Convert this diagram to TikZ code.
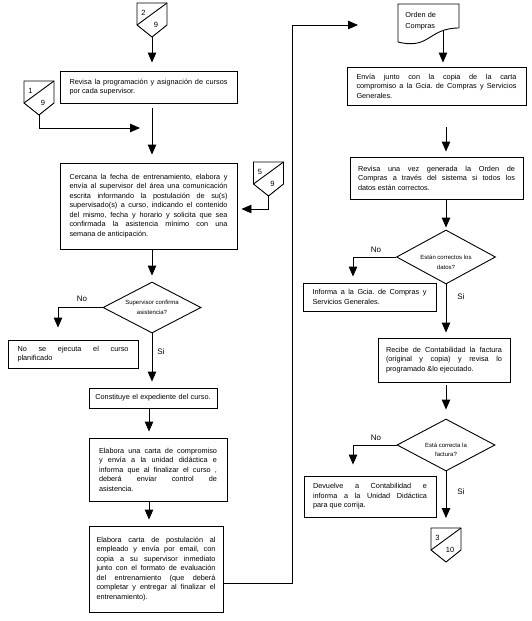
\documentclass[tikz,border=0pt]{standalone}
\usepackage{fontspec}
\setmainfont{Liberation Sans}
\usetikzlibrary{arrows.meta,shapes.geometric,calc}
\hyphenpenalty=10000
\exhyphenpenalty=10000
\frenchspacing
\newcommand\bxfont{\fontsize{7.3}{9.5}\selectfont\tolerance=10000 }
\newcommand\dfont{\fontsize{6}{9.5}\selectfont}
\newcommand\lfont{\fontsize{8}{9}\selectfont}
\newcommand\nfont{\fontsize{7.5}{8}\selectfont}
\newcommand\dtxt[2]{\raisebox{#1}[0pt][0pt]{\makebox[0pt]{\begin{tabular}{@{}c@{}}#2\end{tabular}}}}
\begin{document}
\begin{tikzpicture}[x=1pt,y=-1pt, line width=0.9pt,
 box/.style={draw, rectangle, align=justify, font=\bxfont, inner ysep=0pt},
 arr/.style={-{Triangle[length=10pt,width=8.5pt]}},
 dia/.style={draw, diamond, inner sep=0pt, font=\dfont},
 lbl/.style={font=\lfont, inner sep=0pt},
 pics/offpage/.style 2 args={code={
   \draw (-15,0) -- (15,0) -- (15,22) -- (0,34) -- (-15,22) -- cycle;
   \draw (-15,22) -- (15,0);
   \node[font=\nfont, inner sep=0pt] (-up) at (-8.5,10) {#1};
   \node[font=\nfont, inner sep=0pt] (-dn) at (4,22) {#2};
   \coordinate (-top) at (0,0);
   \coordinate (-tip) at (0,34);
 }},
]
\useasboundingbox (0,0) rectangle (531,621);

% helper columns
\coordinate (colL) at (152,0);
\coordinate (colL2) at (149,0);
\coordinate (colR) at (446,0);
\coordinate (nL) at (58,0);
\coordinate (nR) at (353,0);

% off-page connectors
\pic (c29) at (152,3) {offpage={2}{9}};
\pic (c19) at (39,81) {offpage={1}{9}};
\pic (c59) at (268.5,162) {offpage={5}{9}};
\pic (c310) at (446,528) {offpage={3}{10}};

% left column
\node[box, text width=158pt, inner xsep=9.5pt, minimum height=32pt] (B1) at (148.5,87)
 {Revisa la programación y asignación de cursos\linebreak por cada supervisor.};
\node[box, text width=158pt, inner xsep=9.5pt, minimum height=86pt] (B2) at (148.5,206)
 {Cercana la fecha de entrenamiento, elabora y\linebreak envía al supervisor del área una comunicación\linebreak escrita informando la postulación de su(s)\linebreak supervisado(s) a curso, indicando el contenido\linebreak del mismo, fecha y horario y solicita que sea\linebreak confirmada la asistencia mínimo con una\linebreak semana de anticipación.};
\node[dia, minimum width=98pt, minimum height=51pt] (D1) at (152,307.5)
 {\dtxt{-1.5pt}{Supervisor confirma\\asistencia?}};
\node[box, text width=111pt, inner xsep=9.5pt, minimum height=28pt] (B3) at (73,354)
 {No se ejecuta el curso\linebreak planificado};
\node[box, align=center, text width=120pt, inner xsep=4pt, minimum height=20pt] (B4) at (153,398)
 {Constituye el expediente del curso.};
\node[box, text width=118pt, inner xsep=10pt, minimum height=63pt] (B5) at (158,469.5)
 {Elabora una carta de compromiso\linebreak y envía a la unidad didáctica e\linebreak informa que al finalizar el curso ,\linebreak deberá enviar control de\linebreak asistencia.};
\node[box, text width=119pt, inner xsep=7.5pt, minimum height=86pt] (B6) at (156,569)
 {Elabora carta de postulación al\linebreak empleado y envía por email, con\linebreak copia a su supervisor inmediato\linebreak junto con el formato de evaluación\linebreak del entrenamiento (que deberá\linebreak completar y entregar al finalizar el\linebreak entrenamiento).};

% right column
\node[font=\fontsize{7.3}{11}\selectfont, align=left, inner sep=0pt, anchor=west] (doc) at (405,21.5)
 {Orden de\\Compras};
\draw (459,28) -- (459,4) -- (398,4) -- (398,42) .. controls (430,50) and (428,28) .. (459,28);
\coordinate (docpk) at (443,30);

\node[box, text width=160pt, inner xsep=9.5pt, minimum height=38pt] (B7) at (436.5,86)
 {Envía junto con la copia de la carta\linebreak compromiso a la Gcia. de Compras y Servicios\linebreak Generales.};
\node[box, text width=157pt, inner xsep=8pt, minimum height=42pt] (B8) at (436.5,178)
 {Revisa una vez generada la Orden de\linebreak Compras a través del sistema si todos los\linebreak datos están correctos.};
\node[dia, minimum width=99pt, minimum height=54pt] (D2) at (446,257)
 {\dtxt{-7pt}{Están correctos los\\datos?}};
\node[box, text width=114pt, inner xsep=9.5pt, minimum height=28pt] (B9) at (369.5,297)
 {Informa a la Gcia. de Compras y\linebreak Servicios Generales.};
\node[box, text width=116pt, inner xsep=8pt, minimum height=44pt] (B10) at (444,360)
 {Recibe de Contabilidad la factura\linebreak (original y copia) y revisa lo\linebreak programado \&lo ejecutado.};
\node[dia, minimum width=98pt, minimum height=52pt] (D3) at (446,445)
 {\dtxt{-6.5pt}{Está correcta la\\factura?}};
\node[box, text width=114pt, inner xsep=9pt, minimum height=41pt] (B11) at (370,496.5)
 {Devuelve a Contabilidad e\linebreak informa a la Unidad Didáctica\linebreak para que corrija.};

% labels
\node[lbl] (nD1) at (82,298.5) {No};
\node[lbl] (sD1) at (161,352) {Si};
\node[lbl] (nD2) at (376,250) {No};
\node[lbl] (sD2) at (461,296.5) {Si};
\node[lbl] (nD3) at (376,438) {No};
\node[lbl] (sD3) at (461,491.5) {Si};

% free ends
\coordinate (j19) at (140,128);
\coordinate (turn) at (292,25);
\coordinate (docin) at (358,25);

% connectors
\draw[arr, shorten >=8pt] (c29-tip) -- (c29-tip |- B1.north);
\draw[arr, shorten <=5pt, shorten >=8pt] (B1.south -| colL) -- (B2.north -| colL);
\draw[arr] (c19-tip) |- (j19);
\draw[arr, shorten >=4pt] (c59-tip) |- ([yshift=-3pt]B2.east);
\draw[arr, shorten >=6pt] (B2.south -| colL) -- (D1.north);
\draw[arr, shorten >=12pt] (D1.west) -| (B3.north -| nL);
\draw[arr, shorten >=6pt] (D1.south) -- (D1.south |- B4.north);
\draw[arr, shorten >=6pt] (B4.south -| colL2) -- (B5.north -| colL2);
\draw[arr, shorten >=6pt] (B5.south -| colL2) -- (B6.north -| colL2);
\draw[arr] ([yshift=-14pt]B6.east) -| (turn) -- (docin);
\draw[arr, shorten >=4pt] (docpk) -- (docpk |- B7.north);
\draw[arr, shorten <=22pt, shorten >=5pt] (B7.south -| colR) -- (B8.north -| colR);
\draw[arr, shorten >=2pt] (B8.south -| colR) -- (D2.north);
\draw[arr, shorten >=6pt] (D2.west) -| (B9.north -| nR);
\draw[arr, shorten >=5pt] (D2.south) -- (D2.south |- B10.north);
\draw[arr, shorten <=3pt, shorten >=9pt] (B10.south -| colR) -- (D3.north);
\draw[arr, shorten >=11pt] (D3.west) -| (B11.north -| nR);
\draw[arr, shorten >=10pt] (D3.south) -- (c310-top);
\end{tikzpicture}
\end{document}
